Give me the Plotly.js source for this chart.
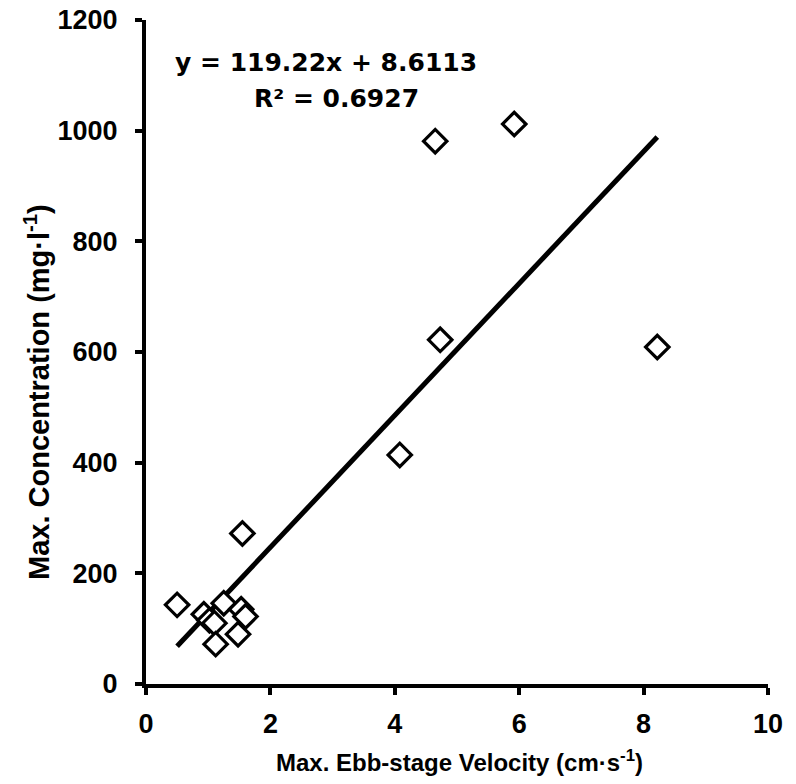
<!DOCTYPE html>
<html>
<head>
<meta charset="utf-8">
<script src="https://cdn.plot.ly/plotly-3.0.1.min.js"></script>
<style>html,body{margin:0;padding:0;background:#fff;}#chart{width:796px;height:784px;}</style>
</head>
<body>
<div id="chart"></div>
<script>
// Data
const velocity      = [0.50, 0.93, 1.02, 1.10, 1.25, 1.12, 1.53, 1.60, 1.48, 1.55, 4.08, 4.65, 4.73, 5.92, 8.22];
const concentration = [143,  126,  115,  110,  146,  72,   135,  122,  90,   272,  414,  981,  622,  1012, 609];
const slope = 119.22;
const intercept = 8.6113;
const rSquared = 0.6927;
const xTicks = [0, 2, 4, 6, 8, 10];
const yTicks = [0, 200, 400, 600, 800, 1000, 1200];

const xMin = Math.min(...velocity), xMax = Math.max(...velocity);
const trendX = [xMin, xMax];
const trendY = trendX.map(v => slope * v + intercept);

const tickFont = {family: 'Liberation Sans, Arial, sans-serif', size: 27, color: '#000', weight: 'bold'};
const eqFont = {family: 'DejaVu Sans', size: 25, color: '#000', weight: 'bold'};

const traces = [
  {x: trendX, y: trendY, mode: 'lines', type: 'scatter',
   line: {color: '#000', width: 5}, hoverinfo: 'skip', showlegend: false},
  {x: velocity, y: concentration, mode: 'markers', type: 'scatter',
   marker: {symbol: 'diamond', size: 18, color: '#fff', line: {color: '#000', width: 3.2}},
   showlegend: false}
];

const layout = {
  width: 796, height: 784,
  margin: {l: 146, r: 28, t: 20, b: 100},
  paper_bgcolor: '#fff', plot_bgcolor: '#fff',
  showlegend: false,
  xaxis: {range: [0, 10], tickvals: xTicks, ticktext: xTicks.map(String),
    showgrid: false, zeroline: false, showline: true, linecolor: '#000', linewidth: 4,
    ticks: 'outside', ticklen: 7, tickwidth: 4, tickcolor: '#000',
    tickfont: tickFont, ticklabelstandoff: 6},
  yaxis: {range: [0, 1200], tickvals: yTicks, ticktext: yTicks.map(String),
    showgrid: false, zeroline: false, showline: true, linecolor: '#000', linewidth: 4,
    ticks: 'outside', ticklen: 7, tickwidth: 4, tickcolor: '#000',
    tickfont: tickFont, ticklabelstandoff: 12},
  annotations: [
    {text: 'y = ' + slope.toFixed(2) + 'x + ' + intercept.toFixed(4), xref: 'paper', yref: 'paper',
     x: (326 - 146) / 622, y: (684 - 62) / 664, xanchor: 'center', yanchor: 'middle',
     showarrow: false, font: eqFont},
    {text: 'R² = ' + rSquared.toFixed(4), xref: 'paper', yref: 'paper',
     x: (336 - 146) / 622, y: (684 - 98) / 664, xanchor: 'center', yanchor: 'middle',
     showarrow: false, font: eqFont},
    {text: 'Max. Ebb-stage Velocity (cm·s<sup>-1</sup>)', xref: 'paper', yref: 'paper',
     x: (459 - 146) / 622, y: (684 - 761) / 664, xanchor: 'center', yanchor: 'middle',
     showarrow: false, font: {family: 'Liberation Sans, Arial, sans-serif', size: 24, color: '#000', weight: 'bold'}},
    {text: 'Max. Concentration (mg·l<sup>-1</sup>)', xref: 'paper', yref: 'paper',
     x: (37 - 146) / 622, y: (684 - 392) / 664, xanchor: 'center', yanchor: 'middle',
     textangle: -90, showarrow: false, font: {family: 'Liberation Sans, Arial, sans-serif', size: 29, color: '#000', weight: 'bold'}}
  ]
};

Plotly.newPlot('chart', traces, layout, {displayModeBar: false, staticPlot: true});
</script>
</body>
</html>
